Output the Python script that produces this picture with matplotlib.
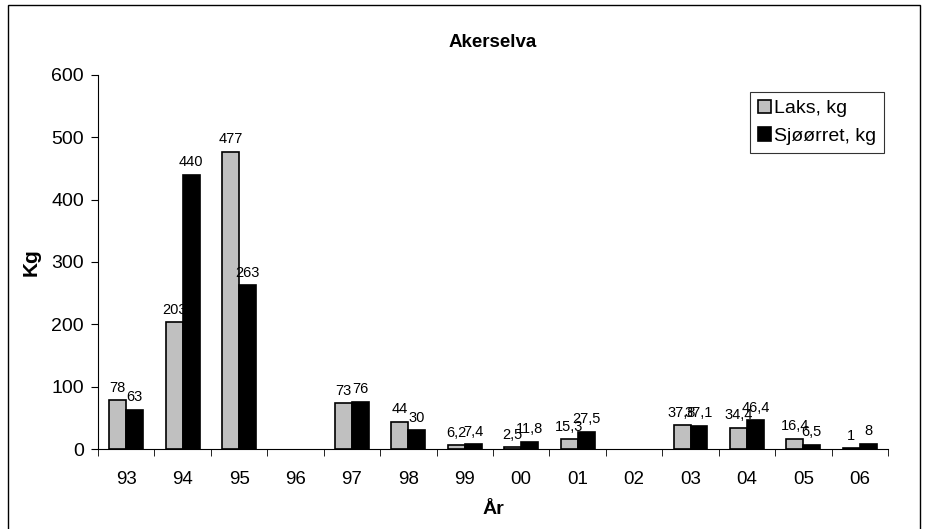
import matplotlib.pyplot as plt
import matplotlib.patches as mpatches
import numpy as np

plt.rcParams['font.family'] = ['Liberation Sans', 'DejaVu Sans']

# data (None = no bar)
years = ["93", "94", "95", "96", "97", "98", "99", "00", "01", "02", "03", "04", "05", "06"]
laks = [78, 203, 477, None, 73, 44, 6.2, 2.5, 15.3, None, 37.8, 34.4, 16.4, 1]
sjoorret = [63, 440, 263, None, 76, 30, 7.4, 11.8, 27.5, None, 37.1, 46.4, 6.5, 8]


def fmt(v):
    if v is None:
        return ""
    return f"{v:g}".replace(".", ",")


fig = plt.figure(figsize=(9.25, 5.29), dpi=100)
# outer chart border
fig.patches.append(mpatches.Rectangle((8 / 925, -0.05), 912 / 925, 1.05 - 5 / 529,
                                      transform=fig.transFigure, fill=False,
                                      edgecolor='black', linewidth=1.0))

ax = fig.add_axes([98 / 925, 80 / 529, 790 / 925, 374 / 529])

x = np.arange(len(years))
w = 0.3
l_vals = [np.nan if v is None else v for v in laks]
s_vals = [np.nan if v is None else v for v in sjoorret]

b1 = ax.bar(x - w / 2, l_vals, w, color='#C0C0C0', edgecolor='black', linewidth=1.2,
            label='Laks, kg')
b2 = ax.bar(x + w / 2, s_vals, w, color='black', edgecolor='black', linewidth=1.2,
            label='Sjøørret, kg')

ax.bar_label(b1, labels=[fmt(v) for v in laks], padding=4, fontsize=10.5)
ax.bar_label(b2, labels=[fmt(v) for v in sjoorret], padding=4, fontsize=10.5)

ax.set_xlim(-0.5, len(years) - 0.5)
ax.set_ylim(0, 600)
ax.set_yticks(np.arange(0, 601, 100))
ax.set_xticks(x)
ax.set_xticklabels(years)
ax.set_xticks(np.arange(-0.5, len(years), 1), minor=True)
ax.tick_params(axis='x', which='major', length=0, pad=16, labelsize=13.5)
ax.tick_params(axis='x', which='minor', length=5, direction='out')
ax.tick_params(axis='y', length=5, direction='out', labelsize=14, pad=5)

ax.spines['top'].set_visible(False)
ax.spines['right'].set_visible(False)

ax.set_title('Akerselva', fontsize=13.5, fontweight='bold', pad=20)
ax.set_xlabel('År', fontsize=14, fontweight='bold', labelpad=9)
ax.set_ylabel('Kg', fontsize=15, fontweight='bold', labelpad=8)

leg = ax.legend(loc='upper right', bbox_to_anchor=(884 / 925, 1 - 92 / 529),
                bbox_transform=fig.transFigure, borderaxespad=0, fontsize=14,
                frameon=True, fancybox=False, edgecolor='black', handlelength=0.7,
                handleheight=0.7, handletextpad=0.15, borderpad=0.4, labelspacing=0.5)
leg.get_frame().set_linewidth(0.8)

plt.savefig('out.png', dpi=100)
